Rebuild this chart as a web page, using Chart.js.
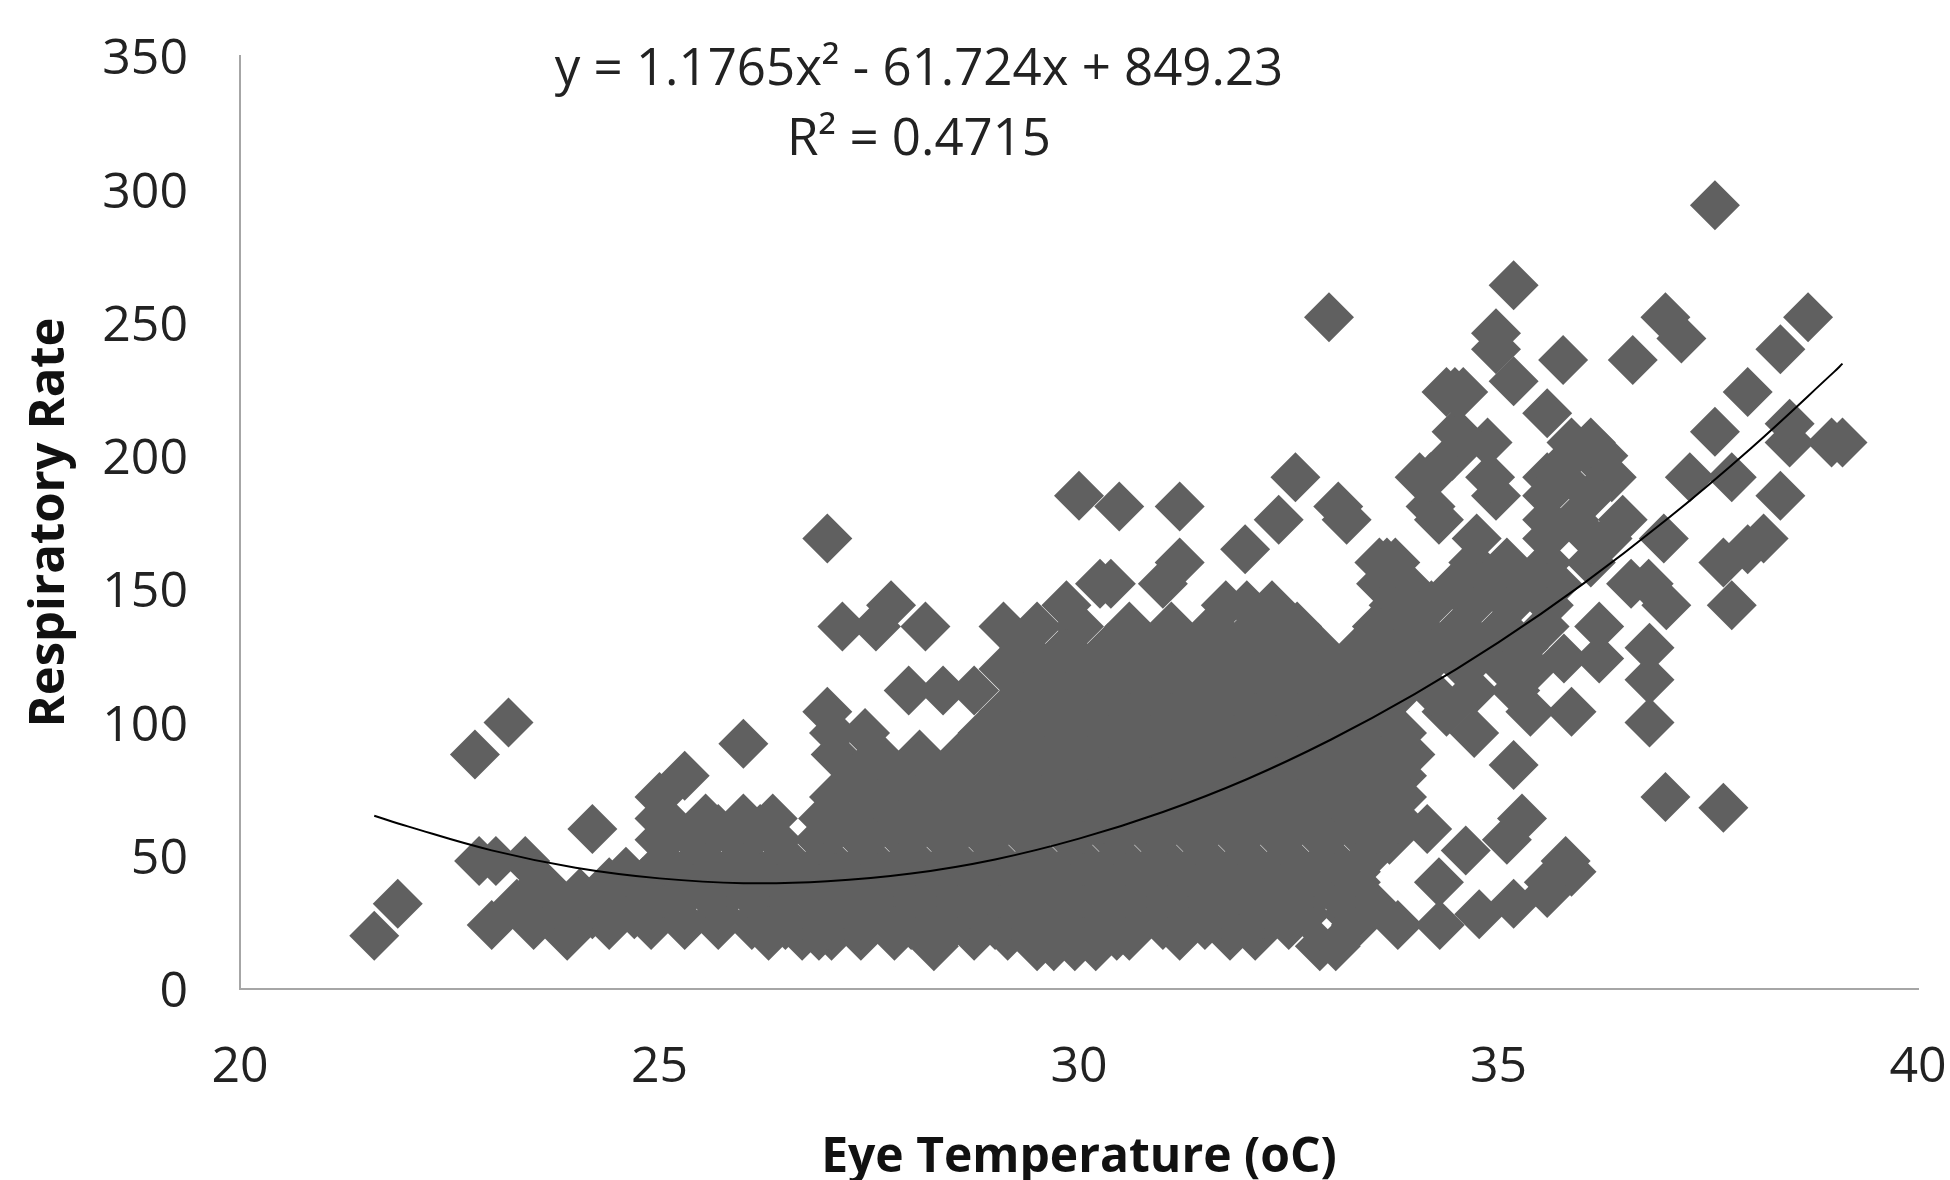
<!DOCTYPE html>
<html>
<head>
<meta charset="utf-8">
<title>Respiratory Rate vs Eye Temperature</title>
<script src="https://cdn.jsdelivr.net/npm/chart.js@4"></script>
<style>
    html, body { margin: 0; padding: 0; background: #fff; }
    #wrap { width: 1950px; height: 1180px; }
    #eyeChart { filter: blur(0.6px); }
</style>
</head>
<body>
<div id="wrap"><canvas id="eyeChart" width="1950" height="1180"></canvas></div>
<script>
// values: one list of temperatures per respiratory rate level
const rateLevels = [16, 20, 24, 28, 32, 36, 40, 44, 48, 52, 56, 60, 64, 68, 72, 80, 84, 88, 92, 96, 100, 104, 112, 116, 120, 124, 128, 136, 144, 152, 160, 165, 169, 176, 181, 185, 192, 200, 205, 209, 212, 216, 224, 228, 236, 240, 244, 246, 252, 264, 294];
const tempsByRate = [
    [28.27, 29.5, 29.7, 29.95, 30.2, 32.87, 33.06],
    [21.6, 23.9, 26.3, 26.7, 26.9, 27.05, 27.4, 27.8, 28.75, 29.15, 30.45, 30.6, 31.2, 31.8, 32.1],
    [23, 23.5, 24.4, 24.9, 25.3, 25.7, 26.1, 26.5, 27, 27.5, 28, 28.5, 29, 29.5, 30, 30.5, 31, 31.5, 32, 32.5, 33.3, 33.8, 34.3],
    [24.2, 24.7, 25.2, 25.7, 26.2, 26.7, 27.2, 27.7, 28.2, 28.7, 29.2, 29.7, 30.2, 30.7, 31.2, 31.7, 32.2, 32.7, 33.2, 34.77],
    [21.88, 23.3, 23.75, 24.2, 24.7, 25.2, 25.7, 26.2, 26.7, 27.2, 27.7, 28.2, 28.7, 29.2, 29.7, 30.2, 30.7, 31.2, 31.7, 32.2, 32.7, 33.2, 33.5, 35.18],
    [24.05, 24.55, 25.05, 25.55, 26.05, 26.55, 27.05, 27.55, 28.05, 28.55, 29.05, 29.55, 30.05, 30.55, 31.05, 31.55, 32.05, 32.55, 33.05, 35.58],
    [23.6, 24.4, 24.8, 25.3, 25.8, 26.3, 26.8, 27.3, 27.8, 28.3, 28.8, 29.3, 29.8, 30.3, 30.8, 31.3, 31.8, 32.3, 32.8, 33.3, 34.29, 35.6],
    [24.6, 25.3, 25.8, 26.3, 26.8, 27.3, 27.8, 28.3, 28.8, 29.3, 29.8, 30.3, 30.8, 31.3, 31.8, 32.3, 32.8, 33.3, 35.77, 35.87],
    [22.85, 23.05, 23.4, 25.05, 25.55, 26.05, 26.55, 27.05, 27.55, 28.05, 28.55, 29.05, 29.55, 30.05, 30.55, 31.05, 31.55, 32.05, 32.55, 33.05, 33.4, 35.8],
    [34.61],
    [25, 25.4, 25.9, 26.4, 26.9, 27.4, 27.9, 28.4, 28.9, 29.4, 29.9, 30.4, 30.9, 31.4, 31.9, 32.4, 32.9, 33.4, 33.7, 35.1],
    [24.2, 25.2, 25.7, 26.2, 27.1, 27.6, 28.1, 28.6, 29.05, 29.55, 30.05, 30.55, 31.05, 31.55, 32.05, 32.55, 33.05, 33.55, 34.15],
    [25, 25.55, 26, 26.35, 26.95, 27.3, 27.85, 28.35, 28.8, 29.3, 29.8, 30.3, 30.8, 31.3, 31.8, 32.3, 32.8, 33.3, 33.8, 35.28],
    [37.68],
    [25, 27.08, 27.6, 28.1, 28.6, 29.1, 29.55, 30.05, 30.55, 31.05, 31.55, 32.05, 32.55, 33.05, 33.55, 33.85, 36.99],
    [25.3, 27.35, 27.85, 28.35, 28.85, 29.35, 29.85, 30.35, 30.85, 31.35, 31.85, 32.35, 32.85, 33.35, 33.85],
    [35.18],
    [22.8, 27.1, 27.6, 28.1, 28.6, 29.1, 29.6, 30.1, 30.6, 31.1, 31.6, 32.1, 32.6, 33.1, 33.6, 33.95],
    [26],
    [27.08, 27.45, 28.85, 29.35, 29.85, 30.35, 30.85, 31.35, 31.85, 32.35, 32.85, 33.35, 33.85, 34.71],
    [23.2, 36.8],
    [27, 29.1, 29.6, 30.1, 30.6, 31.1, 31.6, 32.1, 32.6, 33.1, 33.6, 34.38, 35.38, 35.87],
    [27.97, 28.38, 28.75, 29.35, 29.85, 30.35, 30.85, 31.35, 31.85, 32.35, 32.85, 33.35, 33.85, 34.2, 34.7, 35.2],
    [36.8],
    [29.1, 29.6, 30.1, 30.6, 31.1, 31.6, 32.1, 32.6, 33.1, 33.6, 34.1, 34.6, 35.1, 35.4],
    [35.78, 36.2],
    [29.35, 29.85, 30.35, 30.85, 31.35, 31.85, 32.35, 32.85, 33.35, 33.85, 34.35, 34.85, 35.3, 36.8],
    [27.18, 27.58, 28.17, 29.1, 29.5, 30, 30.6, 31.1, 31.6, 32.1, 32.6, 33.55, 34.05, 34.55, 35.05, 35.55, 36.2],
    [27.76, 29.85, 31.75, 32, 32.3, 33.75, 34.2, 34.7, 35.15, 35.6, 37, 37.78],
    [30.25, 30.38, 31, 33.6, 33.9, 34.5, 34.95, 35.3, 35.7, 36.58, 36.79],
    [31.2, 33.58, 33.67, 33.77, 34.7, 35.1, 35.58, 36.1, 37.68],
    [31.98, 37.97],
    [27, 34.74, 35.58, 36.1, 36.3, 36.97, 38.16],
    [32.38, 33.19, 34.29, 35.58, 35.9, 36.48],
    [30.48, 31.2, 33.09, 34.19],
    [30, 34.97, 35.58, 36.1, 38.36],
    [32.58, 34.06, 34.19, 34.9, 35.58, 35.75, 36.35, 37.28, 37.78],
    [34.45, 35.87, 36.1, 36.25],
    [34.87, 35.87, 36.1, 38.47, 38.97, 39.1],
    [34.5, 37.58],
    [38.47],
    [35.58],
    [34.38, 34.48, 34.58, 37.97],
    [35.18],
    [35.77, 36.6],
    [34.97, 38.36],
    [37.18],
    [34.97],
    [32.98, 36.99, 38.69],
    [35.18],
    [37.58]
];

// trendline
const trendTemps = [21.6, 22, 23, 24, 25, 26, 27, 28, 29, 30, 31, 32, 33, 34, 35, 36, 37, 38, 39, 39.1];
const trendRates = [65, 61, 52, 45.5, 41.5, 39.7, 40.4, 43.3, 48.6, 56.4, 66.4, 78.7, 93.5, 110.6, 130, 151.8, 176, 202.6, 231.5, 234.6];

const xTickValues = [20, 25, 30, 35, 40];
const yTickValues = [0, 50, 100, 150, 200, 250, 300, 350];
const equationLines = ['y = 1.1765x² - 61.724x + 849.23', 'R² = 0.4715'];

const points = [];
rateLevels.forEach((rate, i) => {
    tempsByRate[i].forEach(temp => points.push({ x: temp, y: rate }));
});
const trendPoints = trendTemps.map((temp, i) => ({ x: temp, y: trendRates[i] }));

const labelFont = '"Open Sans", sans-serif';

// regression text inside the plot
const equationPlugin = {
    id: 'equationText',
    afterDraw(chart) {
        const c = chart.ctx;
        c.save();
        c.fillStyle = '#222';
        c.font = '400 51px ' + labelFont;
        c.textAlign = 'center';
        c.textBaseline = 'middle';
        c.fillText(equationLines[0], 919, 70);
        c.fillText(equationLines[1], 919, 140);
        c.restore();
    }
};

const ctx = document.getElementById('eyeChart').getContext('2d');
new Chart(ctx, {
    type: 'scatter',
    data: {
        datasets: [{
            label: 'Trend',
            data: trendPoints,
            showLine: true,
            borderColor: '#000',
            borderWidth: 2,
            pointRadius: 0,
            tension: 0.4,
            order: 0
        }, {
            label: 'Respiratory Rate',
            data: points,
            pointStyle: 'rectRot',
            pointRadius: 25,
            pointBorderWidth: 0,
            backgroundColor: '#606060',
            order: 1
        }]
    },
    options: {
        responsive: false,
        animation: false,
        layout: { padding: { top: 56, right: 32, bottom: 0, left: 0 } },
        plugins: { legend: { display: false }, tooltip: { enabled: false } },
        scales: {
            x: {
                type: 'linear',
                min: 20,
                max: 40,
                afterBuildTicks: s => { s.ticks = xTickValues.map(v => ({ value: v })); },
                afterFit: s => { s.height = 191; s.paddingLeft = 0; s.paddingRight = 0; },
                grid: { display: false },
                border: { display: true, color: '#a6a6a6', width: 2 },
                ticks: { color: '#222', padding: 41, maxRotation: 0, font: { family: labelFont, size: 50 } },
                title: {
                    display: true,
                    text: 'Eye Temperature (oC)',
                    color: '#111',
                    padding: { top: 0, bottom: 0 },
                    font: { family: labelFont, size: 48, weight: 'bold', lineHeight: 0.9 }
                }
            },
            y: {
                min: 0,
                max: 350,
                afterBuildTicks: s => { s.ticks = yTickValues.map(v => ({ value: v })); },
                afterFit: s => { s.width = 240; s.paddingTop = 0; s.paddingBottom = 0; },
                grid: { display: false },
                border: { display: true, color: '#a6a6a6', width: 2 },
                ticks: { color: '#222', padding: 44, labelOffset: 4, font: { family: labelFont, size: 50 } },
                title: {
                    display: true,
                    text: 'Respiratory Rate',
                    color: '#111',
                    padding: { top: 26, bottom: 0 },
                    font: { family: labelFont, size: 49, weight: 'bold', lineHeight: 1 }
                }
            }
        }
    },
    plugins: [equationPlugin]
});
</script>
</body>
</html>
